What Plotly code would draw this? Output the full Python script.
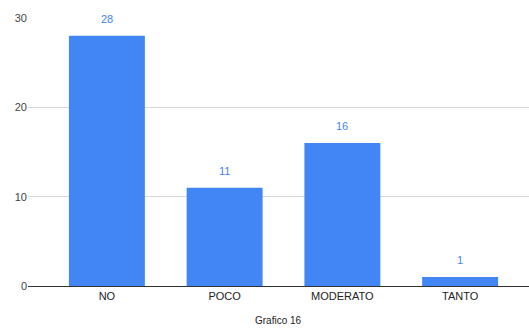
import plotly.graph_objects as go

categories = ["NO", "POCO", "MODERATO", "TANTO"]
values = [28, 11, 16, 1]
y_ticks = [0, 10, 20, 30]
x_title = "Grafico 16"

BLUE = "#4285F4"
FONT = "Arial, Liberation Sans, sans-serif"

fig = go.Figure()
fig.add_trace(go.Bar(
    x=categories, y=values,
    marker=dict(color=BLUE, line=dict(width=0)),
    width=0.645,
))

for c, v in zip(categories, values):
    fig.add_annotation(x=c, y=v, text=str(v), showarrow=False,
                       yshift=17, font=dict(family=FONT, size=11, color=BLUE))

fig.add_annotation(x=0.5, xref="paper", y=0, yref="paper", yanchor="middle",
                   text=x_title, showarrow=False, yshift=-34,
                   font=dict(family=FONT, size=10, color="#222222"))

fig.update_layout(
    width=529, height=328,
    margin=dict(l=28, r=0, t=18, b=42),
    paper_bgcolor="white", plot_bgcolor="white",
    showlegend=False,
    font=dict(family=FONT, size=11, color="#444444"),
    bargap=0.35,
)
fig.update_xaxes(
    range=[-0.67, 3.585],
    showline=True, linecolor="#333333", linewidth=1,
    ticks="", tickfont=dict(family=FONT, size=11, color="#222222"),
    showgrid=False,
)
fig.update_yaxes(
    range=[0, 30], tickvals=y_ticks,
    showgrid=True, gridcolor="#d9d9d9", gridwidth=1,
    zeroline=False, showline=False, ticks="",
    tickfont=dict(family=FONT, size=11, color="#444444"),
)

fig.write_html("out.html")
